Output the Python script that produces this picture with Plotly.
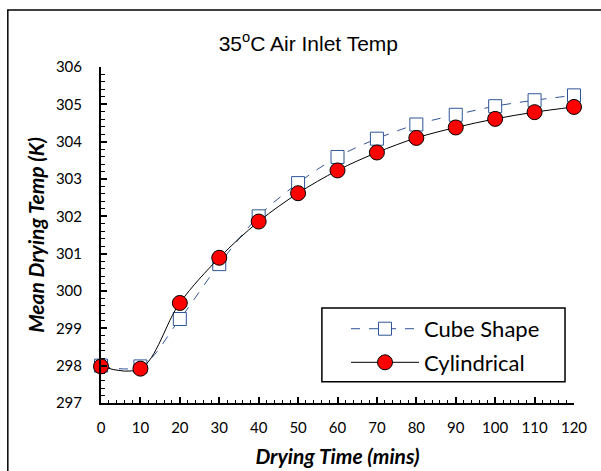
import plotly.graph_objects as go

time_min = [0, 10, 20, 30, 40, 50, 60, 70, 80, 90, 100, 110, 120]
cube_shape = [298.0, 297.98, 299.25, 300.72, 302.0, 302.89, 303.59, 304.08, 304.46, 304.72, 304.95, 305.11, 305.24]
cylindrical = [297.98, 297.92, 299.68, 300.89, 301.86, 302.62, 303.23, 303.71, 304.10, 304.38, 304.61, 304.79, 304.93]

tick_font = dict(family="Lato, Calibri, sans-serif", size=15, color="black")
title_font = dict(family="Lato, Calibri, sans-serif", size=21, color="black")

fig = go.Figure()
fig.add_trace(go.Scatter(
    x=time_min, y=cube_shape, name="Cube Shape", mode="lines+markers",
    line=dict(color="#2F5597", width=1, dash="dash", shape="spline"),
    marker=dict(symbol="square", size=13, color="white", line=dict(color="#2F5597", width=1)),
    cliponaxis=False, legendgroup="a"))
fig.add_trace(go.Scatter(
    x=time_min, y=cylindrical, name="Cylindrical", mode="lines+markers",
    line=dict(color="black", width=1, shape="spline"),
    marker=dict(symbol="circle", size=15, color="#FF0000", line=dict(color="black", width=1)),
    cliponaxis=False, legendgroup="b"))

fig.update_layout(
    width=601, height=471,
    margin=dict(l=101, r=27, t=67, b=68, autoexpand=False),
    paper_bgcolor="white", plot_bgcolor="white",
    title=dict(text="35<sup>o</sup>C Air Inlet Temp", x=0.513, xanchor="center", y=0.907, yanchor="middle",
               automargin=False,
               font=dict(family="Liberation Sans, Arial, sans-serif", size=21, color="black")),
    xaxis=dict(range=[0, 120], dtick=10, tick0=0, showgrid=False, zeroline=False, automargin=False,
               showline=True, linecolor="black", linewidth=2,
               ticks="inside", ticklen=6, tickwidth=2, tickcolor="black",
               minor=dict(dtick=2, ticks="inside", ticklen=3, tickwidth=1, tickcolor="black"),
               tickfont=tick_font, ticklabelstandoff=10,
               title=dict(text="<b><i>Drying Time (mins)</i></b>", standoff=14, font=title_font)),
    yaxis=dict(range=[297, 306], dtick=1, tick0=297, showgrid=False, zeroline=False, automargin=False,
               showline=True, linecolor="black", linewidth=2,
               ticks="inside", ticklen=6, tickwidth=2, tickcolor="black",
               minor=dict(dtick=0.2, ticks="inside", ticklen=4, tickwidth=1, tickcolor="black"),
               tickfont=tick_font, ticklabelstandoff=14,
               title=dict(text="<b><i>Mean Drying Temp (K)</i></b>", standoff=6, font=title_font)),
    legend=dict(x=0.518, y=0.283, xanchor="left", yanchor="top",
                bgcolor="rgba(0,0,0,0)", borderwidth=0, itemwidth=68,
                font=dict(family="Lato, Calibri, sans-serif", size=22, color="black"),
                tracegroupgap=2),
    showlegend=True,
    shapes=[
        dict(type="rect", xref="paper", yref="paper", x0=0.467, x1=0.981, y0=0.063, y1=0.283,
             line=dict(color="black", width=1.5), fillcolor="rgba(0,0,0,0)"),
        dict(type="rect", xref="paper", yref="paper", x0=-0.197, x1=1.2, y0=-0.4, y1=1.17,
             line=dict(color="black", width=1.5), fillcolor="rgba(0,0,0,0)", layer="below"),
    ],
)

fig.write_html("out.html", config={"displayModeBar": False},
               post_script="document.body.style.margin='0';")
